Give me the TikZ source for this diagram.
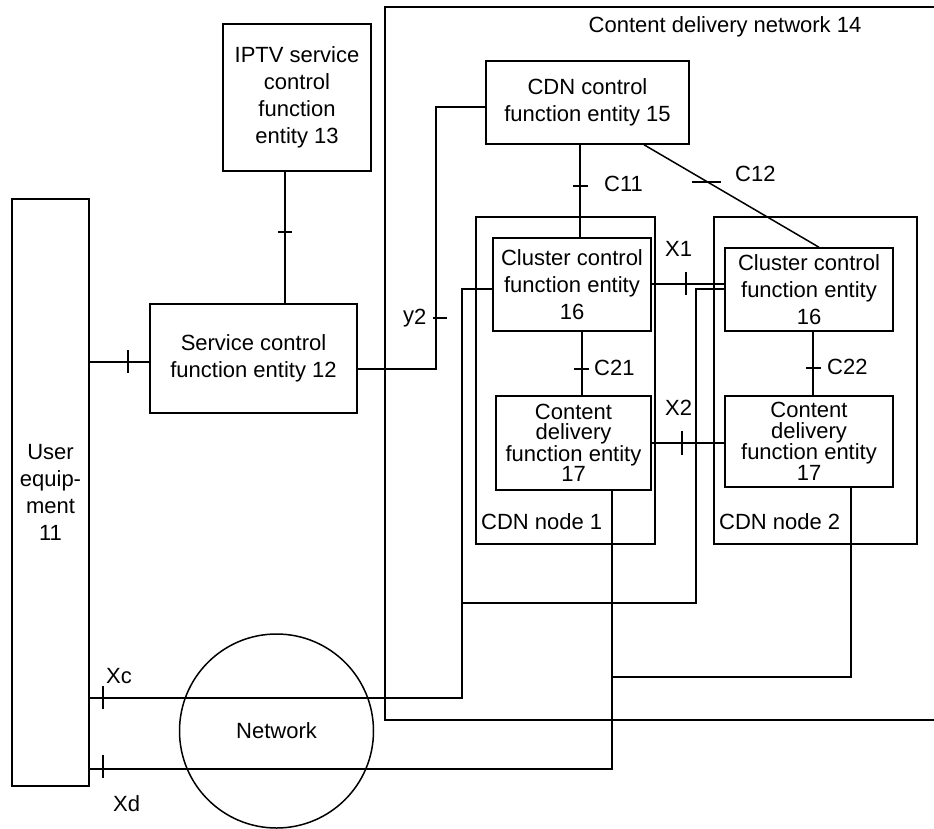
\documentclass[tikz,border=0pt]{standalone}
\usepackage{fontspec}
\setmainfont{Liberation Sans}
\begin{document}
\begin{tikzpicture}[x=1pt,y=-1pt,
  every node/.style={font=\fontsize{22}{27}\selectfont},
  box/.style={draw, line width=1.5pt, inner sep=0pt, align=center},
  tight/.style={font=\fontsize{22}{20.5}\selectfont},
  link/.style={line width=1.5pt},
  tick/.style={line width=1.5pt},
  lbl/.style={anchor=west, inner sep=0pt}]
\useasboundingbox (0,0) rectangle (934,828);

% content delivery network frame (runs off the right edge)
\draw[link] (934,7) -- (385,7) -- (385,720) -- (934,720);
\node[inner sep=0pt] (cdntitle) at (725,27) {Content delivery network 14};

% entities
\node[box, minimum width=77pt, minimum height=587pt] (ue) at (50.5,492.5) {User\\equip-\\ment\\11};
\node[box, minimum width=148pt, minimum height=147pt] (iptv) at (297,97.5) {IPTV service\\control\\function\\entity 13};
\node[box, minimum width=207pt, minimum height=109pt] (sc) at (253.5,358.5) {Service control\\function entity 12};
\node[box, minimum width=203pt, minimum height=83pt] (cdnc) at (587.5,102.5) {CDN control\\function entity 15};

% CDN nodes
\node[box, minimum width=179pt, minimum height=327pt] (node1) at (565.5,380.5) {};
\node[box, minimum width=203pt, minimum height=327pt] (node2) at (815.5,380.5) {};
\node[lbl] (n1lbl) at (481,522) {CDN node 1};
\node[lbl] (n2lbl) at (719,522) {CDN node 2};

\node[box, minimum width=158pt, minimum height=93pt] (cc1) at (572,284.5) {Cluster control\\function entity\\16};
\node[box, minimum width=168pt, minimum height=83pt] (cc2) at (809,289.5) {Cluster control\\function entity\\16};
\node[box, tight, minimum width=155pt, minimum height=94pt] (cd1) at (573.5,443) {Content\\delivery\\function entity\\17};
\node[box, tight, minimum width=168pt, minimum height=91pt] (cd2) at (809,441.5) {Content\\delivery\\function entity\\17};

\node[draw, line width=1.5pt, circle, minimum size=194pt, inner sep=0pt] (net) at (276.5,731) {Network};

% reference points
\coordinate (ya) at (0,362);
\coordinate (yb) at (0,369);
\coordinate (yc) at (0,107);
\coordinate (yd) at (0,284);
\coordinate (ye) at (0,289);
\coordinate (yf) at (0,443);
\coordinate (yg) at (0,698);
\coordinate (yh) at (0,769);
\coordinate (xa) at (285,0);
\coordinate (xb) at (580,0);
\coordinate (xc) at (644,0);
\coordinate (xd) at (819,0);
\coordinate (xe) at (582,0);
\coordinate (xf) at (813,0);
\coordinate (xg) at (612,0);
\coordinate (xh) at (851,0);

% connectors
\draw[link] (iptv.south -| xa) -- (sc.north -| xa);
\draw[link] (ue.east |- ya) -- (sc.west |- ya);
\draw[link] (sc.east |- yb) -- (436,369) -- (436,107) -- (cdnc.west |- yc);
\draw[link] (cdnc.south -| xb) -- (cc1.north -| xb);
\draw[link] (cdnc.south -| xc) -- (cc2.north -| xd);
\draw[link] (cc1.south -| xe) -- (cd1.north -| xe);
\draw[link] (cc2.south -| xf) -- (cd2.north -| xf);
\draw[link] (cc1.east |- yd) -- (cc2.west |- yd);
\draw[link] (cd1.east |- yf) -- (cd2.west |- yf);
\draw[link] (ue.east |- yg) -- (462,698) -- (462,289) -- (cc1.west |- ye);
\draw[link] (cc2.west |- ye) -- (696,289) -- (696,603) -- (462,603);
\draw[link] (ue.east |- yh) -- (612,769) -- (cd1.south -| xg);
\draw[link] (cd2.south -| xh) -- (851,677) -- (612,677);

% interface ticks
\draw[tick] (278,232) -- (292,232);
\draw[tick] (128,350) -- (128,373);
\draw[tick] (433,318) -- (447,318);
\draw[tick] (573,186) -- (588,186);
\draw[tick] (692,182) -- (721,182);
\draw[tick] (574,369) -- (589,369);
\draw[tick] (806,368) -- (821,368);
\draw[tick] (686,272) -- (686,295);
\draw[tick] (682,431) -- (682,455);
\draw[tick] (103,686) -- (103,709);
\draw[tick] (103,755) -- (103,778);

% interface labels
\node[lbl] (lc11) at (604,184) {C11};
\node[lbl] (lc12) at (735,174) {C12};
\node[lbl] (lc21) at (594,368) {C21};
\node[lbl] (lc22) at (827,367) {C22};
\node[lbl] (lx1) at (665,249) {X1};
\node[lbl] (lx2) at (665,408) {X2};
\node[lbl] (ly2) at (403,318) {y\raisebox{-2pt}{2}};
\node[lbl] (lxc) at (106,676) {Xc};
\node[lbl] (lxd) at (113,804) {Xd};
\end{tikzpicture}
\end{document}
